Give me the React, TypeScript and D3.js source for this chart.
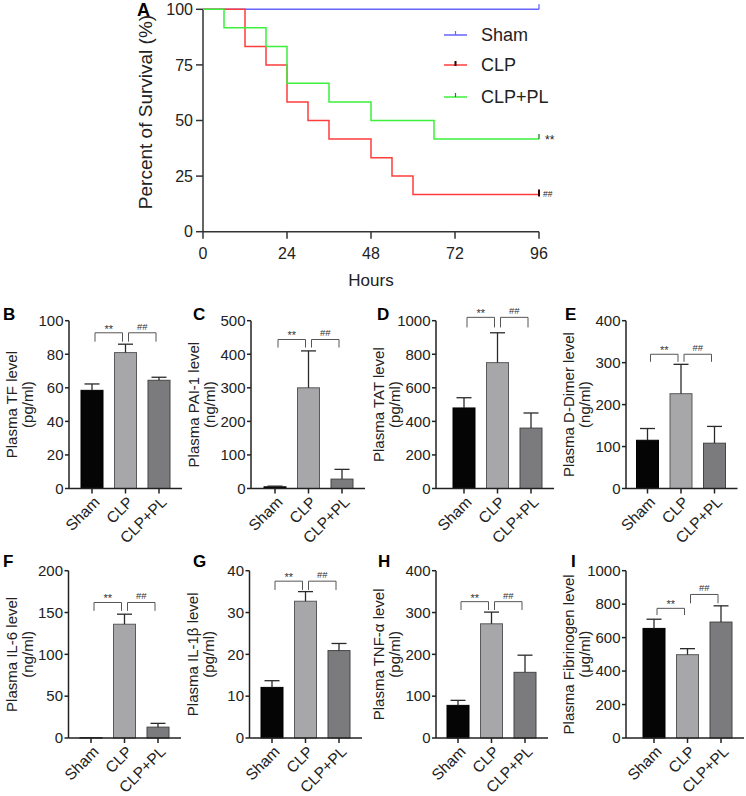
import React from "react";
import * as d3 from "d3";

const font = "'Liberation Sans', Arial, Helvetica, sans-serif";
const groups = ["Sham", "CLP", "CLP+PL"];

// survival curves (Kaplan-Meier steps), hours and percent alive
const shamHours = [0, 96];
const shamSurv = [100, 100];
const clpHours = [0, 12, 18, 24, 30, 36, 48, 54, 60, 96];
const clpSurv = [100, 83.3, 75, 58.3, 50, 41.7, 33.3, 25, 16.7, 16.7];
const plHours = [0, 6, 18, 24, 36, 48, 66, 96];
const plSurv = [100, 91.7, 83.3, 66.7, 58.3, 50, 41.7, 41.7];
const hourTicks = [0, 24, 48, 72, 96];
const survTicks = [0, 25, 50, 75, 100];

// bar panels: mean and top of error bar, order Sham / CLP / CLP+PL
const tfMean = [58.5, 81, 64.5];
const tfTop = [62.3, 86, 66.3];
const paiMean = [5, 300, 28];
const paiTop = [7, 410, 57];
const tatMean = [480, 750, 360];
const tatTop = [541, 928, 450];
const ddMean = [115, 226, 108];
const ddTop = [143, 296, 148];
const il6Mean = [0.3, 136, 13];
const il6Top = [0.3, 148, 17.5];
const il1bMean = [12.1, 32.7, 20.9];
const il1bTop = [13.7, 35, 22.6];
const tnfMean = [78, 273, 157];
const tnfTop = [90, 301, 198];
const fibMean = [655, 498, 693];
const fibTop = [710, 534, 790];

const colors = { sham: "#6464ff", clp: "#ff3c3c", pl: "#3cf03c" };
const barFill = ["#050505", "#a7a7aa", "#7b7b7e"];
const barStroke = ["#000000", "#5a5a5a", "#454545"];

const STEP = 33.5;

type Bracket = { a: number; b: number; label: string; top: number; leg: number };

const panels = [
  { letter: "B", lx: 3, title: "Plasma TF level", unit: "(pg/ml)", max: 100, step: 20, mean: tfMean, top: tfTop,
    ax: 69, c0: 92, row: 0, br: [{ a: 0, b: 1, label: "**", top: 92.8, leg: 87.5 }, { a: 1, b: 2, label: "##", top: 92.8, leg: 87.5 }] },
  { letter: "C", lx: 193, title: "Plasma PAI-1 level", unit: "(ng/ml)", max: 500, step: 100, mean: paiMean, top: paiTop,
    ax: 251, c0: 275, row: 0, br: [{ a: 0, b: 1, label: "**", top: 444, leg: 420 }, { a: 1, b: 2, label: "##", top: 444, leg: 420 }] },
  { letter: "D", lx: 377, title: "Plasma TAT level", unit: "(pg/ml)", max: 1000, step: 200, mean: tatMean, top: tatTop,
    ax: 436, c0: 464, row: 0, br: [{ a: 0, b: 1, label: "**", top: 1020, leg: 960 }, { a: 1, b: 2, label: "##", top: 1020, leg: 960 }] },
  { letter: "E", lx: 565, title: "Plasma D-Dimer level", unit: "(ng/ml)", max: 400, step: 100, mean: ddMean, top: ddTop,
    ax: 626, c0: 647.5, row: 0, br: [{ a: 0, b: 1, label: "**", top: 320, leg: 302 }, { a: 1, b: 2, label: "##", top: 320, leg: 302 }] },
  { letter: "F", lx: 3, title: "Plasma IL-6 level", unit: "(ng/ml)", max: 200, step: 50, mean: il6Mean, top: il6Top,
    ax: 68.5, c0: 91, row: 1, br: [{ a: 0, b: 1, label: "**", top: 162, leg: 152 }, { a: 1, b: 2, label: "##", top: 162, leg: 152 }] },
  { letter: "G", lx: 193, title: "Plasma IL-1β level", unit: "(pg/ml)", max: 40, step: 10, mean: il1bMean, top: il1bTop,
    ax: 249.5, c0: 272, row: 1, br: [{ a: 0, b: 1, label: "**", top: 37.5, leg: 35.4 }, { a: 1, b: 2, label: "##", top: 37.5, leg: 35.4 }] },
  { letter: "H", lx: 378, title: "Plasma TNF-α level", unit: "(pg/ml)", max: 400, step: 100, mean: tnfMean, top: tnfTop,
    ax: 436, c0: 458, row: 1, br: [{ a: 0, b: 1, label: "**", top: 326, leg: 306 }, { a: 1, b: 2, label: "##", top: 326, leg: 306 }] },
  { letter: "I", lx: 571, title: "Plasma Fibrinogen level", unit: "(μg/ml)", max: 1000, step: 200, mean: fibMean, top: fibTop,
    ax: 626, c0: 654, row: 1, br: [{ a: 0, b: 1, label: "**", top: 775, leg: 735 }, { a: 1, b: 2, label: "##", top: 858, leg: 805 }] },
];

const rows = [
  { yTop: 320.7, y0: 488.5, letterY: 320 },
  { yTop: 570.7, y0: 738, letterY: 567 },
];

function Survival() {
  const x = d3.scaleLinear().domain([0, 96]).range([203, 539]);
  const y = d3.scaleLinear().domain([0, 100]).range([231.7, 9.3]);
  const line = d3
    .line<[number, number]>()
    .x((d) => x(d[0]))
    .y((d) => y(d[1]))
    .curve(d3.curveStepAfter);

  const series = [
    { name: "Sham", hours: shamHours, surv: shamSurv, color: colors.sham, mark: "#6464ff" },
    { name: "CLP", hours: clpHours, surv: clpSurv, color: colors.clp, mark: "#300000" },
    { name: "CLP+PL", hours: plHours, surv: plSurv, color: colors.pl, mark: "#208020" },
  ];

  return (
    <g fontFamily={font}>
      <text x={137} y={16} fontSize={18} fontWeight="bold">A</text>
      {/* axes */}
      <line x1={x(0)} x2={x(96)} y1={y(0)} y2={y(0)} stroke="#333" strokeWidth={1.5} />
      <line x1={x(0)} x2={x(0)} y1={y(0)} y2={y(100)} stroke="#333" strokeWidth={1.5} />
      {survTicks.map((t) => (
        <g key={`ys${t}`}>
          <line x1={x(0) - 7} x2={x(0)} y1={y(t)} y2={y(t)} stroke="#333" strokeWidth={1.5} />
          <text x={x(0) - 10} y={y(t)} dy="0.35em" fontSize={16} textAnchor="end" fill="#222">{t}</text>
        </g>
      ))}
      {hourTicks.map((t) => (
        <g key={`xs${t}`}>
          <line x1={x(t)} x2={x(t)} y1={y(0)} y2={y(0) + 7} stroke="#333" strokeWidth={1.5} />
          <text x={x(t)} y={259} fontSize={16} textAnchor="middle" fill="#222">{t}</text>
        </g>
      ))}
      <text x={371} y={286} fontSize={17} textAnchor="middle" fill="#222">Hours</text>
      <text transform="translate(145,112) rotate(-90)" dy="0.35em" fontSize={19} textAnchor="middle" fill="#222">
        Percent of Survival (%)
      </text>
      {/* curves */}
      {series.map((s) => {
        const pts = s.hours.map((h, i) => [h, s.surv[i]] as [number, number]);
        const last = pts[pts.length - 1];
        return (
          <g key={s.name}>
            <path d={line(pts) || ""} fill="none" stroke={s.color} strokeWidth={1.5} />
            <line x1={x(last[0])} x2={x(last[0])} y1={y(last[1]) - 5} y2={y(last[1]) + (s.name === "CLP" ? 2 : 0)}
              stroke={s.mark} strokeWidth={s.name === "CLP" ? 2 : 1.3} />
          </g>
        );
      })}
      <text x={545} y={144} fontSize={12} fill="#222">**</text>
      <text x={543} y={197} fontSize={8.5} fill="#222">##</text>
      {/* legend */}
      {series.map((s, i) => {
        const ly = [35, 65, 97][i];
        return (
          <g key={`lg${s.name}`}>
            <line x1={444} x2={467} y1={ly} y2={ly} stroke={s.color} strokeWidth={1.5} />
            <line x1={455.5} x2={455.5} y1={ly - 4} y2={ly + (s.name === "CLP" ? 1 : 0)}
              stroke={s.mark} strokeWidth={s.name === "CLP" ? 2 : 1.2} />
            <text x={481} y={ly} dy="0.36em" fontSize={18} fill="#222">{s.name}</text>
          </g>
        );
      })}
    </g>
  );
}

function BarPanel({ p }: { p: (typeof panels)[number] }) {
  const r = rows[p.row];
  const y = d3.scaleLinear().domain([0, p.max]).range([r.y0, r.yTop]);
  const x = d3.scalePoint<string>().domain(groups).range([p.c0, p.c0 + 2 * STEP]);
  const ticks = d3.range(0, p.max + p.step / 2, p.step);
  const axisEnd = p.c0 + 2 * STEP + 23;
  const bw = 22;
  const midY = (r.y0 + r.yTop) / 2;

  return (
    <g fontFamily={font}>
      <text x={p.lx} y={r.letterY} fontSize={17} fontWeight="bold">{p.letter}</text>
      {/* bars */}
      {groups.map((g, i) => (
        <rect key={`bar${g}`} x={(x(g) as number) - bw / 2} y={y(p.mean[i])} width={bw}
          height={r.y0 - y(p.mean[i])} fill={barFill[i]} stroke={barStroke[i]} strokeWidth={1} />
      ))}
      {/* error bars */}
      {groups.map((g, i) => {
        const cx = x(g) as number;
        if (p.top[i] - p.mean[i] <= 0.01 * p.max * 0.1) return null;
        return (
          <g key={`err${g}`} stroke="#2a2a2a" strokeWidth={1.3}>
            <line x1={cx} x2={cx} y1={y(p.mean[i])} y2={y(p.top[i])} />
            <line x1={cx - 7.5} x2={cx + 7.5} y1={y(p.top[i])} y2={y(p.top[i])} />
          </g>
        );
      })}
      {/* axes */}
      <line x1={p.ax} x2={p.ax} y1={r.y0} y2={r.yTop} stroke="#222" strokeWidth={1.5} />
      <line x1={p.ax} x2={axisEnd} y1={r.y0} y2={r.y0} stroke="#222" strokeWidth={1.5} />
      {ticks.map((t) => (
        <g key={`t${t}`}>
          <line x1={p.ax - 4} x2={p.ax} y1={y(t)} y2={y(t)} stroke="#222" strokeWidth={1.5} />
          <text x={p.ax - 5.5} y={y(t)} dy="0.35em" fontSize={15} textAnchor="end" fill="#222">{t}</text>
        </g>
      ))}
      {groups.map((g) => {
        const cx = x(g) as number;
        return (
          <g key={`c${g}`}>
            <line x1={cx} x2={cx} y1={r.y0} y2={r.y0 + 5} stroke="#222" strokeWidth={1.5} />
            <text transform={`translate(${cx + 1},${r.y0 + 7}) rotate(-45)`} dy="0.7em" fontSize={15.5}
              textAnchor="end" fill="#222">{g}</text>
          </g>
        );
      })}
      {/* titles */}
      <text transform={`translate(${p.ax - 57},${midY}) rotate(-90)`} dy="0.35em" fontSize={15}
        textAnchor="middle" fill="#222">{p.title}</text>
      <text transform={`translate(${p.ax - 41},${midY}) rotate(-90)`} dy="0.35em" fontSize={15}
        textAnchor="middle" fill="#222">{p.unit}</text>
      {/* significance brackets */}
      {(p.br as Bracket[]).map((b, k) => {
        const xa = (x(groups[b.a]) as number) + 3;
        const xb = (x(groups[b.b]) as number) - 3;
        const yt = y(b.top);
        const yl = y(b.leg);
        return (
          <g key={`br${k}`}>
            <path d={`M${xa},${yl}V${yt}H${xb}V${yl}`} fill="none" stroke="#555" strokeWidth={1} />
            <text x={(xa + xb) / 2} y={yt - (b.label === "**" ? 0 : 3)} fontSize={b.label === "**" ? 11 : 9.5}
              textAnchor="middle" fill="#333">{b.label}</text>
          </g>
        );
      })}
    </g>
  );
}

export default function App() {
  return (
    <svg width={746} height={796} style={{ position: "absolute", left: 0, top: 0, background: "#fff" }}>
      <rect width={746} height={796} fill="#fff" />
      <Survival />
      {panels.map((p) => (
        <BarPanel key={p.letter} p={p} />
      ))}
    </svg>
  );
}
